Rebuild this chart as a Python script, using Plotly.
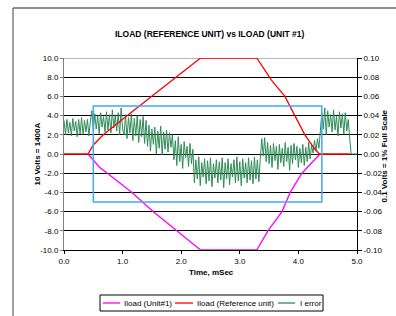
import plotly.graph_objects as go

# ---------------- data ----------------
x_ticks = [0.0, 1.0, 2.0, 3.0, 4.0, 5.0]
x_tick_text = ["0.0", "1.0", "2.0", "3.0", "4.0", "5.0"]
y_ticks = [10, 8, 6, 4, 2, 0, -2, -4, -6, -8, -10]
y_tick_text = ["10.0", "8.0", "6.0", "4.0", "2.0", "0.0", "-2.0", "-4.0", "-6.0", "-8.0", "-10.0"]
y2_ticks = [0.10, 0.08, 0.06, 0.04, 0.02, 0.0, -0.02, -0.04, -0.06, -0.08, -0.10]
y2_tick_text = ["0.10", "0.08", "0.06", "0.04", "0.02", "0.00", "-0.02", "-0.04", "-0.06", "-0.08", "-0.10"]

series_names = ["Iload (Unit#1)", "Iload (Reference unit)", "I error"]
series_colors = ["#ff00ff", "#ff0000", "#2e8b57"]

# Iload (Reference unit)
ref_t = [0.0, 0.41, 0.50, 0.67, 1.08, 1.50, 1.93, 2.30, 2.33, 3.29, 3.54, 3.77, 3.94, 4.11, 4.28, 4.36, 4.88]
ref_v = [0.0, 0.0, 0.94, 2.0, 4.0, 6.0, 8.0, 9.8, 10.0, 10.0, 7.7, 6.0, 4.0, 2.0, 0.5, 0.0, 0.0]

# Iload (Unit#1)
unit_t = [0.41, 0.47, 0.61, 0.74, 1.16, 1.52, 1.93, 2.29, 2.33, 3.29, 3.48, 3.72, 3.86, 4.06, 4.31, 4.37]
unit_v = [0.0, -0.45, -1.4, -2.0, -4.0, -6.0, -8.0, -9.8, -10.0, -10.0, -8.0, -6.0, -4.0, -2.0, -0.3, 0.0]

# I error (sampled every 0.025 ms from 0.0 to 4.85 ms, then tail)
err_step = 0.025
err_v = [
    3.5, 2.0, 3.6, 2.2, 3.3, 1.9, 3.7, 2.4, 3.4, 1.8, 3.6, 2.1, 3.8, 2.0, 3.5, 2.3, 3.6, 1.9, 3.4,
    4.5, 2.4, 4.2, 2.6, 4.0, 2.1, 4.3, 2.8, 3.9, 2.3, 4.4, 2.5, 4.1, 2.2, 4.6, 2.7, 4.0, 2.4, 4.3, 2.0, 4.8, 2.6,
    2.0, 4.1, 1.6, 3.8, 2.2, 4.2, 1.4, 3.7, 1.9, 4.0, 1.2, 3.6, 1.8, 3.9, 1.1, 3.5,
    0.8, 3.0, 0.3, 2.6, 1.0, 2.8, 0.0, 2.4, 0.6, 2.9, -0.1, 2.3, 0.5, 2.5, 0.2, 2.2, 0.7, 2.0,
    -0.6, 1.4, -1.2, 1.8, -0.8, 1.0, -1.5, 1.3, -0.4, 0.8, -1.3, 1.1, -1.0, 0.5,
    -3.0, -0.6, -2.6, -0.3, -3.3, -0.9, -2.4, -0.5, -3.1, -0.7, -2.8, -0.4, -3.4, -1.0, -2.5,
    -0.6, -3.0, -0.8, -2.7, -0.4, -3.5, -0.9, -2.6, -0.5, -3.2, -1.0, -2.4, -0.6, -3.0, -0.3,
    -2.8, -0.8, -3.3, -0.5, -2.5, -0.9, -3.0, -0.4, -2.7, -0.7, -3.1, -0.3, -2.6, -0.6, -2.9,
    -0.5, 1.6, -0.2, 1.7, -0.8, 1.2, -1.0, 0.9, -1.4, 1.1, -0.7, 0.8, -1.6, 1.0, -0.9, 0.6, -1.3, 1.2,
    -0.8, 0.7, -1.7, 0.9, -1.0, 1.1, -0.6, 0.8, -1.4, 0.6, -0.9, 1.0, -1.2, 0.7, -0.8, 1.2, -0.5, 0.9,
    0.1, 1.4, 0.3, 1.6, 0.6,
    2.2, 4.3, 2.6, 4.8, 2.0, 4.5, 2.8, 4.1, 2.3, 4.6, 2.5, 3.9, 1.9, 4.4, 2.7, 4.2, 2.1, 4.3, 2.4, 3.6,
]
err_tail_t = [4.875, 4.90, 5.0]
err_tail_v = [1.7, 0.0, 0.0]

# highlighted window (blue box)
window_t = [0.5, 4.4]
window_v = [-5.0, 5.0]

# ---------------- figure ----------------
err_t = [round(i * err_step, 3) for i in range(len(err_v))] + err_tail_t
err_all = err_v + err_tail_v

FONT = "Liberation Sans, Arial, sans-serif"
W, H = 396, 316
L, R, T, B = 64, 39, 58, 66
pw, ph = W - L - R, H - T - B


def px(xp):
    return (xp - L) / pw


def py(yp):
    return (H - B - yp) / ph


fig = go.Figure()
fig.add_trace(go.Scatter(x=err_t, y=err_all, mode="lines", name=series_names[2],
                         line=dict(color=series_colors[2], width=1)))
fig.add_trace(go.Scatter(x=unit_t, y=unit_v, mode="lines", name=series_names[0],
                         line=dict(color=series_colors[0], width=1.3)))
fig.add_trace(go.Scatter(x=ref_t, y=ref_v, mode="lines", name=series_names[1],
                         line=dict(color=series_colors[1], width=1.3)))
# invisible trace to activate secondary axis
fig.add_trace(go.Scatter(x=[x_ticks[0]], y=[y2_ticks[0]], yaxis="y2", mode="markers",
                         marker=dict(opacity=0), hoverinfo="skip"))

shapes = [
    dict(type="rect", xref="x", yref="y", x0=window_t[0], x1=window_t[1],
         y0=window_v[0], y1=window_v[1], line=dict(color="#3fa9f5", width=1.5), layer="above"),
    dict(type="line", xref="x", yref="y", x0=x_ticks[0], x1=x_ticks[-1], y0=y_ticks[0], y1=y_ticks[0],
         line=dict(color="#a0a0a0", width=1.5), layer="below"),
    # outer chart frame (top and left)
    dict(type="line", xref="paper", yref="paper", x0=px(13), x1=px(400), y0=py(8), y1=py(8),
         line=dict(color="#222", width=1)),
    dict(type="line", xref="paper", yref="paper", x0=px(13), x1=px(13), y0=py(8), y1=py(320),
         line=dict(color="#444", width=1)),
    # legend box
    dict(type="rect", xref="paper", yref="paper", x0=px(100), x1=px(323), y0=py(295), y1=py(311),
         line=dict(color="#000", width=1), fillcolor="white"),
]

annotations = [
    dict(text="<b>ILOAD (REFERENCE UNIT) vs ILOAD (UNIT #1)</b>", xref="paper", yref="paper",
         x=px(210), y=py(27), showarrow=False, font=dict(size=8.5, color="#000", family=FONT)),
    dict(text="<b>Time, mSec</b>", xref="paper", yref="paper", x=px(211), y=py(279),
         showarrow=False, font=dict(size=8, color="#000", family=FONT)),
    dict(text="<b>10 Volts = 1400A</b>", xref="paper", yref="paper", x=px(30), y=py(154),
         textangle=-90, showarrow=False, font=dict(size=8, color="#000", family=FONT)),
    dict(text="<b>0.1 Volts = 1% Full Scale</b>", xref="paper", yref="paper", x=px(390), y=py(156),
         textangle=-90, showarrow=False, font=dict(size=8, color="#000", family=FONT)),
]

# custom legend (line sample + text)
leg_line_x = [(103, 120), (175, 193), (278, 295)]
leg_text_x = [122, 195, 298]
for i in range(3):
    x0, x1 = leg_line_x[i]
    shapes.append(dict(type="line", xref="paper", yref="paper", x0=px(x0), x1=px(x1),
                       y0=py(303), y1=py(303), line=dict(color=series_colors[i], width=1.3)))
    annotations.append(dict(text=series_names[i], xref="paper", yref="paper", x=px(leg_text_x[i]),
                            y=py(303), xanchor="left", yanchor="middle", showarrow=False,
                            font=dict(size=8, color="#000", family=FONT)))

fig.update_layout(
    width=W, height=H, autosize=False,
    margin=dict(l=L, r=R, t=T, b=B, pad=0),
    paper_bgcolor="white", plot_bgcolor="white",
    font=dict(family=FONT, size=8, color="#000"),
    shapes=shapes, annotations=annotations,
    showlegend=False,
    xaxis=dict(range=[x_ticks[0], x_ticks[-1]], tickvals=x_ticks, ticktext=x_tick_text,
               showgrid=False, zeroline=False, showline=True, linecolor="#000", linewidth=1,
               ticks="outside", ticklen=3, tickcolor="#000", tickfont=dict(size=8), automargin=False),
    yaxis=dict(range=[y_ticks[-1], y_ticks[0]], tickvals=y_ticks, ticktext=y_tick_text,
               showgrid=True, gridcolor="#000", gridwidth=1, zeroline=False,
               showline=True, linecolor="#808080", linewidth=1,
               ticks="outside", ticklen=3, tickcolor="#808080", tickfont=dict(size=8), automargin=False),
    yaxis2=dict(range=[y2_ticks[-1], y2_ticks[0]], tickvals=y2_ticks, ticktext=y2_tick_text,
                overlaying="y", side="right", showgrid=False, zeroline=False,
                showline=True, linecolor="#000", linewidth=1,
                ticks="outside", ticklen=4, tickcolor="#000", tickfont=dict(size=8), automargin=False),
)

fig.write_html("out.html", config={"displayModeBar": False, "staticPlot": True},
               post_script="document.body.style.margin='0';document.body.style.overflow='hidden';")
